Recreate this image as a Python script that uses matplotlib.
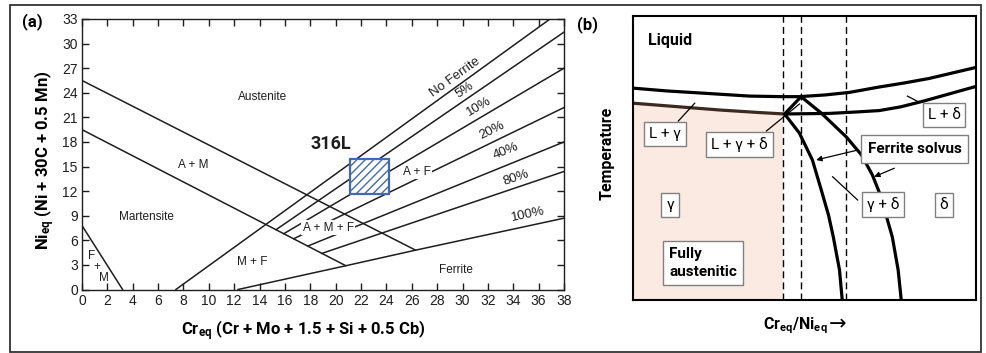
import matplotlib
matplotlib.use("Agg")
import matplotlib.pyplot as plt
from matplotlib.patches import Rectangle
from matplotlib import font_manager
import numpy as np

# ---------------- (a) Schaeffler diagram ----------------
cr_ticks = list(range(0, 39, 2))
ni_ticks = list(range(0, 34, 3))

# phase boundaries, (Cr_eq, Ni_eq)
am_cr = [0, 26.3]
am_ni = [25.5, 4.8]
mart_cr = [0, 20.8]
mart_ni = [19.5, 2.9]
fm_cr = [0, 3.2]
fm_ni = [7.8, 0]
no_ferrite_cr = [7.4, 36.9]
no_ferrite_ni = [0, 33]
full_ferrite_cr = [12.3, 20.8, 26.3, 38]
full_ferrite_ni = [0, 2.9, 4.8, 8.7]

ferrite_pct = ["5%", "10%", "20%", "40%", "80%"]
ferrite_start_cr = [15.3, 15.9, 16.7, 17.8, 18.9]
ferrite_start_ni = [7.3, 6.8, 6.2, 5.3, 4.4]
ferrite_end_cr = [38, 38, 38, 38, 38]
ferrite_end_ni = [31.4, 27.0, 22.2, 18.0, 14.4]

steel_name = "316L"
steel_cr = [21.1, 24.2]
steel_ni = [11.6, 15.9]

# ---------------- (b) schematic pseudo-binary section ----------------
# x: Cr_eq/Ni_eq (arbitrary units), y: temperature (arbitrary units)
liq_x = [0, 10, 19.5, 34.0, 43.6, 48.5, 56, 63.1, 71.8, 79, 86.3, 93, 100]
liq_y = [74.6, 73.6, 72.9, 71.8, 71.6, 71.6, 72.2, 73.1, 75.0, 76.4, 78.0, 79.9, 81.9]
sol_gamma_x = [0, 13.7, 25.3, 36.9, 44.2]
sol_gamma_y = [69.3, 68.0, 66.9, 66.0, 65.5]
sol_delta_x = [44.2, 57.3, 65, 71.8, 78, 84.9, 92, 100]
sol_delta_y = [65.5, 65.7, 66.2, 66.7, 68.0, 70.1, 72.5, 75.2]
peritectic_x = [44.2, 49.0]
peritectic_y = [65.5, 71.6]
solvus_in_x = [44.2, 48.5, 52.3, 54.9, 57.0, 58.4, 60.2, 61.0]
solvus_in_y = [65.5, 58.8, 49.3, 38.7, 29.9, 22.2, 10.6, 0]
solvus_out_x = [49.0, 54.9, 62.2, 66.6, 69.8, 72.1, 75.6, 77.3, 78.2]
solvus_out_y = [71.6, 65.8, 57.4, 51.1, 44.0, 37.0, 22.2, 10.6, 0]
alloy_x = [43.6, 49.0, 62.1]

W, H = 987, 353
names = {f.name for f in font_manager.fontManager.ttflist}
label_font = "Liberation Sans Narrow" if "Liberation Sans Narrow" in names else "Roboto"
tick_font = "Liberation Sans"

plt.rcParams["mathtext.fontset"] = "custom"
plt.rcParams["mathtext.rm"] = label_font
plt.rcParams["mathtext.bf"] = label_font + ":bold"


def rect(x0, y0, x1, y1):
    return [x0 / W, 1 - y1 / H, (x1 - x0) / W, (y1 - y0) / H]


fig = plt.figure(figsize=(W / 100, H / 100), dpi=100)
fig.patch.set_facecolor("white")

ink = "#1e1e1e"

# ---- panel a ----
ax = fig.add_axes(rect(82, 19, 564, 289.5))
ax.set_xlim(0, 38)
ax.set_ylim(0, 33)
ax.set_xticks(cr_ticks)
ax.set_yticks(ni_ticks)
ax.tick_params(direction="in", top=True, right=True, length=5, width=1,
               labelsize=10, pad=3, colors=ink)
for lab in ax.get_xticklabels() + ax.get_yticklabels():
    lab.set_family(tick_font)
for s in ax.spines.values():
    s.set_linewidth(1)
    s.set_color(ink)

lw = 1.1
ax.plot(am_cr, am_ni, color=ink, lw=lw)
ax.plot(mart_cr, mart_ni, color=ink, lw=lw)
ax.plot(fm_cr, fm_ni, color=ink, lw=lw)
ax.plot(no_ferrite_cr, no_ferrite_ni, color=ink, lw=lw)
ax.plot(full_ferrite_cr, full_ferrite_ni, color=ink, lw=lw)
for i in range(len(ferrite_pct)):
    ax.plot([ferrite_start_cr[i], ferrite_end_cr[i]],
            [ferrite_start_ni[i], ferrite_end_ni[i]], color=ink, lw=lw)


def slope_deg(xs, ys):
    return np.degrees(np.arctan2(ys[-1] - ys[-2], xs[-1] - xs[-2]))


# labels along the iso-ferrite lines
pct_pos = [(30.2, 24.3), (31.3, 22.3), (32.3, 19.4), (33.4, 16.9), (34.2, 13.65)]
for i, txt in enumerate(ferrite_pct):
    ang = slope_deg([ferrite_start_cr[i], ferrite_end_cr[i]],
                    [ferrite_start_ni[i], ferrite_end_ni[i]])
    ax.text(*pct_pos[i], txt, rotation=ang, transform_rotates_text=True,
            rotation_mode="anchor", ha="center", va="center",
            family=tick_font, fontsize=9.5, color=ink)
ax.text(29.4, 25.9, "No Ferrite", rotation=slope_deg(no_ferrite_cr, no_ferrite_ni),
        transform_rotates_text=True, rotation_mode="anchor",
        ha="center", va="center", family=tick_font, fontsize=9.5, color=ink)
ax.text(35.2, 9.2, "100%", rotation=slope_deg(full_ferrite_cr, full_ferrite_ni),
        transform_rotates_text=True, rotation_mode="anchor",
        ha="center", va="center", family=tick_font, fontsize=9.5, color=ink)

region_kw = dict(ha="center", va="center", family=tick_font, fontsize=8.5, color=ink)
ax.text(14.2, 23.5, "Austenite", **region_kw)
ax.text(8.8, 15.2, "A + M", **region_kw)
ax.text(5.1, 8.8, "Martensite", **region_kw)
ax.text(0.75, 4.1, "F", **region_kw)
ax.text(1.2, 2.75, "+", **region_kw)
ax.text(1.7, 1.4, "M", **region_kw)
ax.text(13.4, 3.3, "M + F", **region_kw)
ax.text(29.5, 2.35, "Ferrite", **region_kw)
gap = dict(boxstyle="square,pad=0.1", fc="white", ec="none")
ax.text(26.4, 14.3, "A + F", bbox=gap, **region_kw)
ax.text(19.4, 7.55, "A + M + F", bbox=gap, **region_kw)

# 316L composition window
ax.add_patch(Rectangle((steel_cr[0], steel_ni[0]), steel_cr[1] - steel_cr[0],
                       steel_ni[1] - steel_ni[0], facecolor="white",
                       edgecolor="#4169b4", hatch="////", lw=1.6, zorder=3))
ax.text(19.6, 17.7, steel_name, ha="center", va="center", family=label_font,
        fontweight="bold", fontsize=13, color=ink)

fig.text(32 / W, 1 - 22 / H, "(a)", ha="center", va="center", family=label_font,
         fontweight="bold", fontsize=12)
fig.text(45 / W, 1 - 160 / H, r"$\mathbf{Ni_{eq}}$ (Ni + 30C + 0.5 Mn)", rotation=90,
         ha="center", va="center", family=label_font, fontweight="bold", fontsize=12)
fig.text(303 / W, 1 - 331 / H, r"$\mathbf{Cr_{eq}}$ (Cr + Mo + 1.5 + Si + 0.5 Cb)",
         ha="center", va="center", family=label_font, fontweight="bold", fontsize=12)

# ---- panel b ----
bx = fig.add_axes(rect(633, 16, 976, 300))
bx.set_xlim(0, 100)
bx.set_ylim(0, 100)
bx.set_xticks([])
bx.set_yticks([])
for s in bx.spines.values():
    s.set_linewidth(1.5)
    s.set_color("black")

# fully austenitic field
edge_y = np.interp(alloy_x[0], sol_gamma_x, sol_gamma_y)
fill_x = [x for x in sol_gamma_x if x <= alloy_x[0]] + [alloy_x[0]]
fill_y = [y for x, y in zip(sol_gamma_x, sol_gamma_y) if x <= alloy_x[0]] + [edge_y]
bx.fill_between(fill_x, 0, fill_y, color="#fbeae1", lw=0, zorder=0)

for xv in alloy_x:
    bx.plot([xv, xv], [0, 100], color="black", lw=1.0, dashes=(5, 3), zorder=1)

thick = 2.3
bx.plot(liq_x, liq_y, color="black", lw=thick, solid_capstyle="butt", zorder=2)
bx.plot(sol_gamma_x, sol_gamma_y, color="#3a2a20", lw=thick, solid_capstyle="butt", zorder=2)
bx.plot(sol_delta_x, sol_delta_y, color="black", lw=thick, solid_capstyle="butt", zorder=2)
bx.plot(peritectic_x, peritectic_y, color="black", lw=thick, zorder=2)
bx.plot(solvus_in_x, solvus_in_y, color="black", lw=thick, solid_capstyle="butt", zorder=2)
bx.plot(solvus_out_x, solvus_out_y, color="black", lw=thick, solid_capstyle="butt", zorder=2)

# leader lines
thin = dict(color="black", lw=0.9, zorder=3)
bx.plot([13.2, 18.0], [63.0, 69.3], **thin)
bx.plot([38.9, 48.5], [59.5, 69.0], **thin)
bx.plot([83.2, 80.0], [69.8, 71.8], **thin)
bx.plot([65.5, 58.2], [35.2, 43.4], **thin)
arrow = dict(arrowstyle="-|>", color="black", lw=0.9, mutation_scale=8, shrinkA=0, shrinkB=0)
bx.annotate("", xy=(53.4, 49.3), xytext=(65.5, 52.8), arrowprops=arrow, zorder=3)
bx.annotate("", xy=(70.3, 43.4), xytext=(76.2, 46.4), arrowprops=arrow, zorder=3)

box = dict(boxstyle="square,pad=0.32", fc="white", ec="#808080", lw=1)
lab_kw = dict(ha="center", va="center", family=[label_font, "DejaVu Sans"],
              fontsize=11, zorder=4)
bx.text(9.3, 58.5, "L + γ", bbox=box, **lab_kw)
bx.text(31.1, 54.8, "L + γ + δ", bbox=box, **lab_kw)
bx.text(90.7, 65.1, "L + δ", bbox=box, **lab_kw)
bx.text(72.9, 33.5, "γ + δ", bbox=box, **lab_kw)
bx.text(10.8, 33.5, "γ", bbox=box, **lab_kw)
bx.text(90.7, 33.5, "δ", bbox=box, **lab_kw)
bx.text(82.1, 53.2, "Ferrite solvus", fontweight="bold",
        bbox=dict(boxstyle="square,pad=0.45", fc="white", ec="#808080", lw=1),
        **lab_kw)
bx.text(20.5, 13.0, "Fully\naustenitic", fontweight="bold", linespacing=1.3,
        bbox=dict(boxstyle="square,pad=0.4", fc="white", ec="#808080", lw=1),
        ha="center", va="center", family=label_font, fontsize=11, multialignment="left",
        zorder=4)
bx.text(4.4, 91.2, "Liquid", ha="left", va="center", family=label_font,
        fontweight="bold", fontsize=11.5)

fig.text(587 / W, 1 - 25 / H, "(b)", ha="center", va="center", family=label_font,
         fontweight="bold", fontsize=12)
fig.text(607 / W, 1 - 153 / H, "Temperature", rotation=90, ha="center", va="center",
         family=label_font, fontweight="bold", fontsize=11.5)
fig.text(828 / W, 1 - 326 / H, r"$\mathbf{Cr_{eq}}$/$\mathbf{Ni_{eq}}$", ha="right",
         va="center", family=label_font, fontweight="bold", fontsize=11.5)
fig.text(829 / W, 1 - 324 / H, "→", ha="left", va="center",
         family="DejaVu Sans", fontsize=15)

# outer frame
fig.add_artist(Rectangle((10 / W, 1 - 352 / H), 971 / W, 347 / H,
                         transform=fig.transFigure, fill=False, ec="#333333", lw=1.3))

fig.savefig("out.png", dpi=100, facecolor="white")
